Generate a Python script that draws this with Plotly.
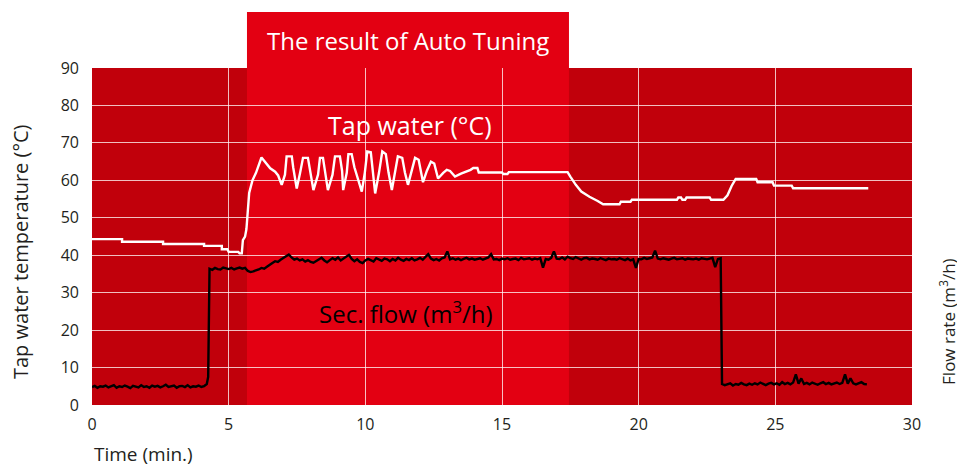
import plotly.graph_objects as go

# ---------------- data ----------------
# Tap water temperature (°C) vs time (min.)
temp_t = [0.0, 1.1, 1.1, 2.6, 2.6, 4.1, 4.1, 4.75, 4.75, 4.95, 5.0, 5.35, 5.4, 5.48,
          5.52, 5.6, 5.65, 5.75, 5.87, 6.0, 6.2,
          6.52, 6.70, 6.81, 6.94,
          7.06, 7.12, 7.31, 7.36, 7.49,
          7.61, 7.72, 7.90, 7.98, 8.10,
          8.27, 8.34, 8.45, 8.53, 8.63,
          8.80, 8.89, 9.07, 9.15, 9.19,
          9.32, 9.38, 9.50, 9.60, 9.87,
          9.98, 10.07, 10.20, 10.28, 10.36,
          10.50, 10.62, 10.75, 10.85, 10.97,
          11.08, 11.19, 11.35, 11.45, 11.56,
          11.68, 11.82, 11.95, 12.03, 12.11,
          12.25, 12.40, 12.52, 12.60, 12.66,
          12.85, 12.98, 13.10, 13.28,
          13.50, 13.65, 13.85, 13.95, 14.10, 14.15, 15.0, 15.05, 15.2, 15.25, 17.4,
          17.5, 17.7, 17.9, 18.2, 18.5, 18.7, 19.3, 19.35, 19.7, 19.75, 21.4,
          21.45, 21.55, 21.6, 21.7, 21.75, 22.6, 22.65, 23.1, 23.25, 23.4, 23.55,
          24.3, 24.35, 24.9, 24.95, 25.6, 25.65, 28.4]
temp_v = [44.3, 44.3, 43.6, 43.6, 43.0, 43.0, 42.5, 42.5, 41.6, 41.6, 40.9, 40.9, 40.5, 40.5,
          44.0, 45.0, 47.0, 56.6, 60.0, 62.0, 66.1,
          63.2, 62.3, 61.3, 58.8,
          61.5, 66.4, 66.4, 63.5, 57.8,
          61.9, 66.0, 66.0, 62.4, 57.4,
          61.5, 66.0, 66.0, 62.4, 57.4,
          61.5, 66.4, 66.4, 62.5, 57.4,
          62.0, 67.0, 67.0, 63.5, 57.0,
          62.0, 67.7, 67.5, 62.5, 56.5,
          62.0, 67.7, 67.0, 62.0, 57.4,
          62.0, 66.4, 66.0, 62.0, 58.8,
          62.0, 66.0, 65.5, 62.5, 59.5,
          62.5, 65.0, 64.5, 62.5, 60.5,
          62.0, 62.8, 62.5, 61.0,
          61.8, 62.2, 62.8, 63.3, 63.3, 62.1, 62.1, 61.7, 61.7, 62.2, 62.2,
          61.0, 58.8, 57.0, 55.6, 54.5, 53.6, 53.6, 54.3, 54.3, 54.8, 54.8,
          55.4, 55.4, 54.8, 54.8, 55.4, 55.4, 54.8, 54.8, 56.0, 58.5, 60.4,
          60.4, 59.5, 59.5, 58.6, 58.6, 57.9, 57.9]

# Secondary flow (m³/h), sampled every 0.1 min, in three recorded segments
flow_low_start = 0.0
flow_low = [4.8, 5.1, 4.6, 5.0, 4.9, 5.2, 4.7, 4.9, 5.3, 4.6,
            5.0, 4.8, 5.2, 4.9, 4.5, 5.1, 5.0, 4.7, 5.3, 4.8,
            5.0, 4.6, 5.2, 4.9, 5.1, 4.7, 5.0, 5.4, 4.8, 4.9,
            5.2, 4.6, 5.0, 5.1, 4.8, 5.3, 4.7, 5.0, 4.9, 5.2,
            4.8, 5.0, 5.6]
flow_ramp_t = [4.25]
flow_ramp_v = [7.5]
flow_high_start = 4.3
flow_high = [36.4, 36.1, 36.6, 36.3, 36.2, 36.7, 36.4, 36.3, 36.6, 36.2, 36.5, 36.7, 36.4, 36.6,
             35.8, 35.5, 35.7, 35.9,
             36.2, 36.6, 36.4, 36.9, 37.3,
             37.9, 38.4, 38.2, 38.8, 39.2,
             39.6, 40.2, 39.4, 38.8, 39.1, 38.6, 38.9, 38.3, 38.7, 38.2,
             38.0, 38.5, 38.9, 39.3, 38.6, 38.1, 38.7, 39.2, 38.8, 39.4,
             38.6, 39.1, 39.8, 40.1, 39.0, 38.4, 38.9, 38.2, 37.9, 38.6,
             39.0, 38.7, 38.3, 39.2, 38.8, 38.5, 39.1, 38.9, 38.4, 39.0,
             38.6, 39.3, 38.8, 38.5, 39.0, 38.7, 39.2, 38.6, 38.9, 39.3,
             38.8, 39.5, 40.3, 39.1, 38.7, 39.0, 38.6, 39.2, 39.4, 41.0,
             38.9, 39.2, 38.8, 39.1, 38.7, 39.0, 39.3, 38.9, 39.1, 38.8,
             39.0, 39.2, 38.8, 39.1, 39.4, 40.3, 38.9, 39.0, 38.7, 39.1,
             38.9, 39.2, 38.8, 39.0, 39.1, 38.7, 39.3, 38.9, 39.0, 39.2,
             38.8, 39.1, 38.9, 39.2, 36.7, 39.0, 38.8, 39.3, 41.0, 39.1,
             39.0, 39.4, 38.9, 39.6, 39.2, 39.0, 39.5, 39.1, 38.8, 39.2,
             39.3, 38.9, 39.1, 39.0, 38.8, 39.2, 39.0, 38.7, 39.1, 38.9,
             39.0, 38.8, 39.2, 38.9, 38.7, 39.1, 38.6, 38.9, 36.6, 39.0,
             38.9, 39.3, 39.0, 39.2, 39.4, 41.2, 39.1, 38.9, 39.2, 39.0,
             38.8, 39.1, 39.3, 38.9, 39.0, 39.2, 38.8, 39.1, 39.0, 38.9,
             39.1, 38.8, 39.2, 39.0, 38.9, 39.1, 39.3, 36.8, 39.0, 39.2]
flow_end_start = 23.05
flow_end = [5.6, 5.3, 5.5, 5.8, 5.2, 5.6, 5.4, 5.9, 5.5, 5.3,
            5.7, 5.4, 5.8, 5.5, 6.0, 5.6, 5.3, 5.7, 5.9, 5.5,
            5.8, 5.4, 6.1, 5.6, 5.9, 5.5, 6.0, 8.2, 5.7, 7.1,
            5.6, 5.9, 5.5, 6.0, 5.7, 5.4, 5.8, 6.1, 5.6, 5.9,
            5.5, 5.8, 6.0, 5.6, 5.9, 8.2, 5.7, 7.1, 5.8, 5.5,
            5.9, 6.1, 5.6, 5.5]
flow_step = 0.1

# Auto tuning period (min.)
tuning_start = 5.67
tuning_end = 17.45

x_ticks = [0, 5, 10, 15, 20, 25, 30]
y_ticks = [0, 10, 20, 30, 40, 50, 60, 70, 80, 90]

# ---------------- build flow series ----------------
flow_t, flow_v = [], []
for start, seg in [(flow_low_start, flow_low)]:
    flow_t += [round(start + i * flow_step, 3) for i in range(len(seg))]
    flow_v += seg
flow_t += flow_ramp_t
flow_v += flow_ramp_v
for start, seg in [(flow_high_start, flow_high), (flow_end_start, flow_end)]:
    flow_t += [round(start + i * flow_step, 3) for i in range(len(seg))]
    flow_v += seg

# ---------------- figure ----------------
DARK = "#c1000b"
BRIGHT = "#e30012"
FONT = "Open Sans"
TXT = "#231f20"

fig = go.Figure()
fig.add_trace(go.Scatter(x=flow_t, y=flow_v, mode="lines", yaxis="y2",
                         line=dict(color="#000000", width=2.4), name="Sec. flow"))
fig.add_trace(go.Scatter(x=temp_t, y=temp_v, mode="lines",
                         line=dict(color="#ffffff", width=2.4), name="Tap water"))

fig.add_shape(type="rect", xref="x", yref="paper", x0=tuning_start, x1=tuning_end,
              y0=0, y1=1.166, fillcolor=BRIGHT, line=dict(width=0), layer="below")

grid = "rgba(255,255,255,0.75)"
fig.update_layout(
    width=957, height=466,
    margin=dict(l=92, r=45, t=68, b=61, autoexpand=False),
    paper_bgcolor="#ffffff", plot_bgcolor=DARK,
    showlegend=False,
    font=dict(family=FONT, color=TXT, size=16),
    xaxis=dict(range=[0, 30], tickvals=x_ticks, showgrid=True, gridcolor=grid, gridwidth=1.2,
               zeroline=False, showline=False, ticks="", ticklabelstandoff=8,
               tickfont=dict(size=16, color=TXT)),
    yaxis=dict(range=[0, 90], tickvals=y_ticks, showgrid=True, gridcolor=grid, gridwidth=1.2,
               zeroline=False, showline=False, ticks="", ticklabelstandoff=12,
               tickfont=dict(size=16, color=TXT)),
    yaxis2=dict(range=[0, 90], overlaying="y", side="right", showgrid=False,
                showticklabels=False, zeroline=False, showline=False, ticks=""),
    annotations=[
        dict(text="The result of Auto Tuning", x=(tuning_start + tuning_end) / 2, xref="x",
             y=1.083, yref="paper", xanchor="center", yanchor="middle", showarrow=False,
             font=dict(size=24, color="#ffffff", family=FONT)),
        dict(text="Tap water (°C)", x=11.65, xref="x", y=74.8, yref="y",
             xanchor="center", yanchor="middle", showarrow=False,
             font=dict(size=25, color="#ffffff", family=FONT)),
        dict(text="Sec. flow (m<sup>3</sup>/h)", x=11.5, xref="x", y=24.8, yref="y",
             xanchor="center", yanchor="middle", showarrow=False,
             font=dict(size=24, color="#000000", family=FONT)),
        dict(text="Tap water temperature (°C)", x=-0.0878, xref="paper", y=0.454, yref="paper",
             xanchor="center", yanchor="middle", textangle=-90, showarrow=False,
             font=dict(size=20, color=TXT, family=FONT)),
        dict(text="Time (min.)", x=0, xref="paper", xanchor="left", y=-0.146, yref="paper",
             yanchor="middle", showarrow=False, font=dict(size=19, color=TXT, family=FONT)),
        dict(text="Flow rate (m<sup>3</sup>/h)", x=1.0425, xref="paper", y=0.249, yref="paper",
             xanchor="center", yanchor="middle", textangle=-90, showarrow=False,
             font=dict(size=17, color=TXT, family=FONT)),
    ],
)

fig.write_html("out.html", config={"displayModeBar": False},
               post_script="document.body.style.margin='0px';document.body.style.overflow='hidden';")
